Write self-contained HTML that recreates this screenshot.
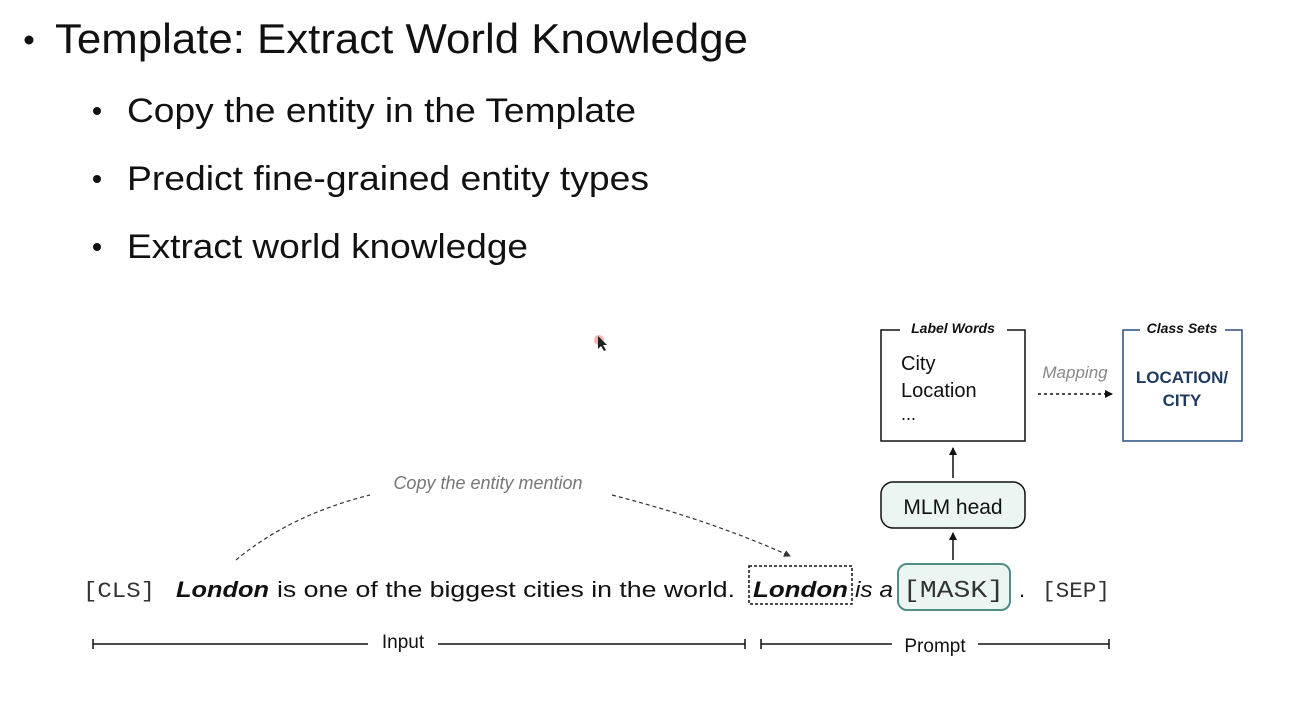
<!DOCTYPE html>
<html><head><meta charset="utf-8"><style>
html,body{margin:0;padding:0;background:#fff;}
svg{display:block;font-family:"Liberation Sans",Arial,sans-serif;}
</style></head><body>
<svg width="1305" height="712" viewBox="0 0 1305 712" xmlns="http://www.w3.org/2000/svg">
<defs>
<marker id="ah" markerWidth="8" markerHeight="8" refX="7" refY="4" orient="auto" markerUnits="userSpaceOnUse">
<path d="M0,0 L8,4 L0,8 z" fill="#111"/></marker>
<marker id="ah2" markerWidth="7" markerHeight="7" refX="6" refY="3.5" orient="auto" markerUnits="userSpaceOnUse">
<path d="M0,0 L7,3.5 L0,7 z" fill="#333"/></marker>
</defs>
<rect width="1305" height="712" fill="#fff"/>
<circle cx="29" cy="40" r="4.5" fill="#111"/>
<text x="55" y="53" font-size="42" fill="#111" textLength="693" lengthAdjust="spacingAndGlyphs">Template: Extract World Knowledge</text>
<circle cx="97" cy="111" r="4" fill="#111"/>
<text x="127" y="122" font-size="34" fill="#111" textLength="509" lengthAdjust="spacingAndGlyphs">Copy the entity in the Template</text>
<circle cx="97" cy="179" r="4" fill="#111"/>
<text x="127" y="190" font-size="34" fill="#111" textLength="522" lengthAdjust="spacingAndGlyphs">Predict fine-grained entity types</text>
<circle cx="97" cy="247" r="4" fill="#111"/>
<text x="127" y="258" font-size="34" fill="#111" textLength="401" lengthAdjust="spacingAndGlyphs">Extract world knowledge</text>
<circle cx="599" cy="340" r="5" fill="#f3b3b3"/>
<path d="M598,336 l0,13 l3,-3 l3,5 l2,-1 l-3,-5 l4,0 z" fill="#222"/>

<path d="M900,330 H881 V441 H1025 V330 H1007" fill="none" stroke="#111" stroke-width="1.5"/>
<text x="953" y="333" font-size="14" font-style="italic" font-weight="bold" text-anchor="middle" fill="#111">Label Words</text>
<text x="901" y="370" font-size="20" fill="#111">City</text>
<text x="901" y="397" font-size="20" fill="#111">Location</text>
<text x="901" y="420" font-size="18" fill="#111">...</text>
<path d="M1140,330 H1123 V441 H1242 V330 H1225" fill="none" stroke="#2a4f80" stroke-width="1.5"/>
<text x="1182" y="333" font-size="14" font-style="italic" font-weight="bold" text-anchor="middle" fill="#111">Class Sets</text>
<text x="1182" y="383" font-size="17" font-weight="bold" text-anchor="middle" fill="#1f3a60">LOCATION/</text>
<text x="1182" y="406" font-size="17" font-weight="bold" text-anchor="middle" fill="#1f3a60">CITY</text>
<text x="1075" y="378" font-size="17" font-style="italic" text-anchor="middle" fill="#888">Mapping</text>
<line x1="1038" y1="394" x2="1112" y2="394" stroke="#111" stroke-width="1.5" stroke-dasharray="3,3" marker-end="url(#ah)"/>
<rect x="881" y="482" width="144" height="46" rx="12" fill="#ebf6f3" stroke="#111" stroke-width="1.5"/>
<text x="953" y="514" font-size="21" text-anchor="middle" fill="#111">MLM head</text>
<line x1="953" y1="478" x2="953" y2="448" stroke="#111" stroke-width="1.5" marker-end="url(#ah)"/>
<line x1="953" y1="560" x2="953" y2="533" stroke="#111" stroke-width="1.5" marker-end="url(#ah)"/>
<text x="83" y="597" font-family="Liberation Mono,monospace" font-size="22" fill="#333" textLength="72" lengthAdjust="spacingAndGlyphs">[CLS]</text>
<text x="176" y="597" font-size="22" font-weight="bold" font-style="italic" fill="#111" textLength="93" lengthAdjust="spacingAndGlyphs">London</text>
<text x="277" y="597" font-size="22" fill="#111" textLength="458" lengthAdjust="spacingAndGlyphs">is one of the biggest cities in the world.</text>
<rect x="749" y="566" width="103" height="38" fill="none" stroke="#111" stroke-width="1.5" stroke-dasharray="3,2"/>
<text x="753" y="597" font-size="22" font-weight="bold" font-style="italic" fill="#111" textLength="95" lengthAdjust="spacingAndGlyphs">London</text>
<text x="855" y="597" font-size="22" font-style="italic" fill="#111" textLength="38" lengthAdjust="spacingAndGlyphs">is a</text>
<rect x="898" y="564" width="112" height="46" rx="9" fill="#ebf6f3" stroke="#4f8e84" stroke-width="2"/>
<text x="903" y="597" font-family="Liberation Mono,monospace" font-size="24" fill="#333" textLength="101" lengthAdjust="spacingAndGlyphs">[MASK]</text>
<text x="1019" y="597" font-size="22" fill="#111">.</text>
<text x="1042" y="597" font-family="Liberation Mono,monospace" font-size="22" fill="#333" textLength="68" lengthAdjust="spacingAndGlyphs">[SEP]</text>
<text x="488" y="489" font-size="18" font-style="italic" text-anchor="middle" fill="#777">Copy the entity mention</text>
<path d="M236,560 Q290,515 370,495" fill="none" stroke="#333" stroke-width="1.2" stroke-dasharray="4,3"/>
<path d="M612,495 Q710,520 790,556" fill="none" stroke="#333" stroke-width="1.2" stroke-dasharray="4,3" marker-end="url(#ah2)"/>
<line x1="93" y1="644" x2="368" y2="644" stroke="#111" stroke-width="1.5"/>
<line x1="438" y1="644" x2="745" y2="644" stroke="#111" stroke-width="1.5"/>
<line x1="93" y1="639" x2="93" y2="649" stroke="#111" stroke-width="1.5"/>
<line x1="745" y1="639" x2="745" y2="649" stroke="#111" stroke-width="1.5"/>
<text x="403" y="648" font-size="19" text-anchor="middle" fill="#111">Input</text>
<line x1="761" y1="644" x2="892" y2="644" stroke="#111" stroke-width="1.5"/>
<line x1="978" y1="644" x2="1109" y2="644" stroke="#111" stroke-width="1.5"/>
<line x1="761" y1="639" x2="761" y2="649" stroke="#111" stroke-width="1.5"/>
<line x1="1109" y1="639" x2="1109" y2="649" stroke="#111" stroke-width="1.5"/>
<text x="935" y="652" font-size="19" text-anchor="middle" fill="#111">Prompt</text>
</svg>
</body></html>
